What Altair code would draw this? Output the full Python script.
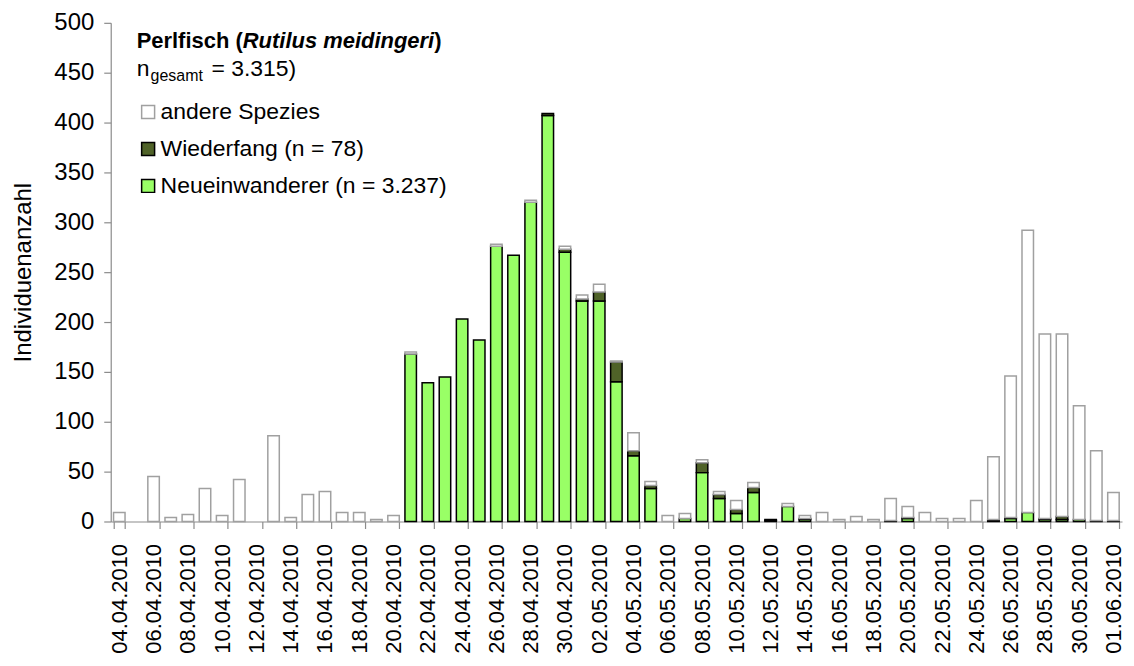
import altair as alt
import pandas as pd

# ---------------- data ----------------
dates = [
    "04.04.2010", "05.04.2010", "06.04.2010", "07.04.2010", "08.04.2010", "09.04.2010",
    "10.04.2010", "11.04.2010", "12.04.2010", "13.04.2010", "14.04.2010", "15.04.2010",
    "16.04.2010", "17.04.2010", "18.04.2010", "19.04.2010", "20.04.2010", "21.04.2010",
    "22.04.2010", "23.04.2010", "24.04.2010", "25.04.2010", "26.04.2010", "27.04.2010",
    "28.04.2010", "29.04.2010", "30.04.2010", "01.05.2010", "02.05.2010", "03.05.2010",
    "04.05.2010", "05.05.2010", "06.05.2010", "07.05.2010", "08.05.2010", "09.05.2010",
    "10.05.2010", "11.05.2010", "12.05.2010", "13.05.2010", "14.05.2010", "15.05.2010",
    "16.05.2010", "17.05.2010", "18.05.2010", "19.05.2010", "20.05.2010", "21.05.2010",
    "22.05.2010", "23.05.2010", "24.05.2010", "25.05.2010", "26.05.2010", "27.05.2010",
    "28.05.2010", "29.05.2010", "30.05.2010", "31.05.2010", "01.06.2010",
]
neueinwanderer = [
    0, 0, 0, 0, 0, 0, 0, 0, 0, 0, 0, 0, 0, 0, 0, 0, 0, 168,
    139, 145, 203, 182, 276, 267, 320, 407, 270, 221, 221, 140,
    66, 33, 0, 3, 49, 23, 8, 29, 1, 15, 2, 0,
    0, 0, 0, 0, 3, 0, 0, 0, 0, 1, 3, 9,
    2, 2, 2, 0, 0,
]
wiederfang = [
    0, 0, 0, 0, 0, 0, 0, 0, 0, 0, 0, 0, 0, 0, 0, 0, 0, 0,
    0, 0, 0, 0, 0, 0, 0, 2, 3, 2, 9, 20,
    5, 3, 0, 0, 10, 4, 4, 5, 1, 0, 1, 0,
    0, 0, 0, 1, 1, 0, 0, 0, 0, 1, 1, 0,
    1, 3, 0, 1, 1,
]
andere_spezies = [
    9, 0, 45, 4, 7, 33, 6, 42, 0, 86, 4, 27, 30, 9, 9, 2, 6, 2,
    0, 0, 0, 0, 2, 0, 2, 0, 3, 4, 8, 1,
    18, 4, 6, 5, 3, 3, 9, 5, 0, 3, 3, 9,
    2, 5, 2, 22, 11, 9, 3, 3, 21, 63, 142, 283,
    185, 183, 114, 70, 28,
]
series_names = ["andere Spezies", "Wiederfang (n = 78)", "Neueinwanderer (n = 3.237)"]
series_fill = ["#FFFFFF", "#4F6228", "#99FF66"]
series_stroke = ["#A0A0A0", "#000000", "#000000"]
tick_labels = dates[::2]
y_ticks = list(range(0, 501, 50))

FONT = "Liberation Sans"

# ---------------- table ----------------
rows = []
for i, d in enumerate(dates):
    for name, vals, order in ((series_names[2], neueinwanderer, 0),
                              (series_names[1], wiederfang, 1),
                              (series_names[0], andere_spezies, 2)):
        if vals[i] > 0:
            rows.append({"Datum": d, "Serie": name, "Anzahl": vals[i], "ord": order})
df = pd.DataFrame(rows)

legend = alt.Legend(
    title=None, orient="none", legendX=26, legendY=78,
    symbolType="square", symbolSize=169, symbolStrokeWidth=1.5,
    labelFont=FONT, labelFontSize=23, labelColor="#000000", labelLimit=600,
    labelOffset=1, rowPadding=13, padding=0,
)

bars = alt.Chart(df).mark_bar(strokeWidth=1.5).encode(
    x=alt.X(
        "Datum:N",
        sort=dates,
        scale=alt.Scale(domain=dates, paddingInner=0.33, paddingOuter=0.165),
        axis=alt.Axis(
            values=tick_labels, title=None, labelAngle=270, labelAlign="right",
            labelBaseline="middle", tickBand="extent", labelPadding=15,
            labelFontSize=22,
        ),
    ),
    y=alt.Y(
        "Anzahl:Q",
        stack="zero",
        scale=alt.Scale(domain=[0, 500], nice=False),
        axis=alt.Axis(values=y_ticks, title="Individuenanzahl", grid=False,
                      labelPadding=10, titlePadding=18),
    ),
    fill=alt.Fill("Serie:N", scale=alt.Scale(domain=series_names, range=series_fill), legend=legend),
    stroke=alt.Stroke("Serie:N", scale=alt.Scale(domain=series_names, range=series_stroke), legend=legend),
    order=alt.Order("ord:Q"),
)


def label(text, x, y, size=23, weight="normal", style="normal"):
    return alt.Chart(pd.DataFrame({"t": [text]})).mark_text(
        align="left", baseline="alphabetic", font=FONT, fontSize=size,
        fontWeight=weight, fontStyle=style, color="#000000",
    ).encode(text="t:N", x=alt.value(x), y=alt.value(y))


title_parts = [
    label("Perlfisch (", 26, 25, 22, "bold"),
    label("Rutilus meidingeri", 132.4, 25, 22, "bold", "italic"),
    label(")", 324.3, 25, 22, "bold"),
    label("n", 26, 53),
    label("gesamt", 40, 58.5, 16),
    label("= 3.315)", 101, 53),
]

chart = alt.layer(bars, *title_parts).properties(
    width=1014, height=500,
    autosize="none",
    padding={"left": 103, "top": 14, "right": 4, "bottom": 135},
).configure_view(stroke=None).configure_axis(
    domainColor="#8C8C8C", tickColor="#8C8C8C", tickSize=7, domainWidth=1.2, tickWidth=1.2,
    labelFont=FONT, labelFontSize=24, labelColor="#000000",
    titleFont=FONT, titleFontSize=24, titleFontWeight="normal", titleColor="#000000",
)

chart.save("out.html", embed_options={"renderer": "svg", "actions": False})
